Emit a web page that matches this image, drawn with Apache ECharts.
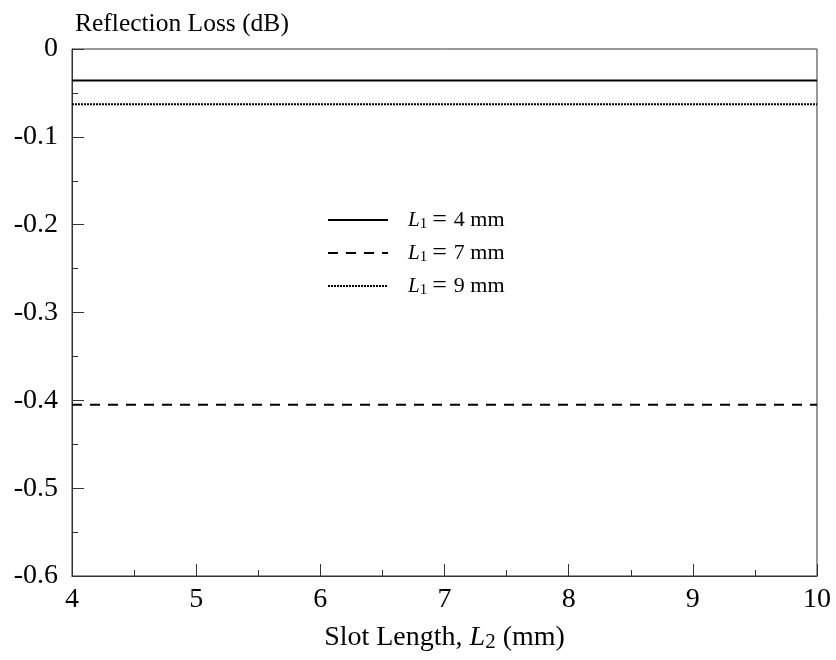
<!DOCTYPE html>
<html><head><meta charset="utf-8">
<script src="https://cdn.jsdelivr.net/npm/echarts@6/dist/echarts.min.js"></script>
<style>html,body{margin:0;padding:0;background:#fff}#c{width:836px;height:660px}</style>
</head><body><div id="c"></div>
<script>
const xValues = [4, 5, 6, 7, 8, 9, 10];
const seriesNames = ['L1 = 4 mm', 'L1 = 7 mm', 'L1 = 9 mm'];
const legendNums = ['4', '7', '9'];
const l1_4mm = [-0.036, -0.036, -0.036, -0.036, -0.036, -0.036, -0.036];
const l1_7mm = [-0.405, -0.405, -0.405, -0.405, -0.405, -0.405, -0.405];
const l1_9mm = [-0.063, -0.063, -0.063, -0.063, -0.063, -0.063, -0.063];
const yTickLabels = ['-0.6', '-0.5', '-0.4', '-0.3', '-0.2', '-0.1', '0'];

const FONT = '"Liberation Serif", "Times New Roman", serif';
const chart = echarts.init(document.getElementById('c'));
function pts(vals){ return xValues.map((x,i)=>[x, vals[i]]); }
const styles = [
  {type:'solid', width:2},
  {type:[10,8], width:2},
  {type:[2,1], width:2}
];
const allVals = [l1_4mm, l1_7mm, l1_9mm];
chart.setOption({
  animation:false,
  title:{text:'Reflection Loss (dB)', left:70, top:6, textStyle:{fontFamily:FONT, fontSize:25.5, fontWeight:'normal', color:'#000'}},
  grid:{left:72, right:19, top:49, bottom:84, show:true, borderColor:'#333', borderWidth:1, backgroundColor:'transparent'},
  legend:{
    orient:'vertical', left:322, top:202, itemWidth:60, itemHeight:14, itemGap:7,
    data:seriesNames,
    itemStyle:{opacity:0},
    formatter:function(n){ const i = seriesNames.indexOf(n); return '{i|L}{s|1}{e|=}{t|' + legendNums[i] + ' mm}'; },
    textStyle:{fontFamily:FONT, fontSize:21, color:'#000', padding:[0,0,0,15],
      rich:{i:{fontFamily:FONT, fontStyle:'italic', fontSize:21, color:'#000'},
            s:{fontFamily:FONT, fontSize:15, color:'#000', padding:[8,0,0,0]},
            e:{fontFamily:FONT, fontSize:26, color:'#000', padding:[0,7,0,5]},
            t:{fontFamily:FONT, fontSize:22, color:'#000'}}}
  },
  xAxis:{
    type:'value', min:4, max:10, interval:1,
    name:'Slot Length, {i|L}{s|2} (mm)', nameLocation:'middle', nameGap:46,
    nameTextStyle:{fontFamily:FONT, fontSize:28, color:'#000',
      rich:{i:{fontFamily:FONT, fontStyle:'italic', fontSize:28, color:'#000'},
            s:{fontFamily:FONT, fontSize:21, color:'#000', padding:[10,0,0,0]}}},
    axisLine:{onZero:false, lineStyle:{color:'#333', width:1}},
    axisTick:{inside:true, length:12, lineStyle:{color:'#333'}},
    minorTick:{show:true, splitNumber:2, length:6, lineStyle:{color:'#333'}},
    axisLabel:{fontFamily:FONT, fontSize:28, color:'#000', margin:10},
    splitLine:{show:false}
  },
  yAxis:{
    type:'value', min:-0.6, max:0, interval:0.1,
    axisLine:{show:true, onZero:false, lineStyle:{color:'#333', width:1}},
    axisTick:{show:true, inside:true, length:12, lineStyle:{color:'#333'}},
    minorTick:{show:true, splitNumber:2, length:6, lineStyle:{color:'#333'}},
    axisLabel:{fontFamily:FONT, fontSize:28, color:'#000', margin:14,
      formatter:function(v){ const idx = Math.round((v+0.6)*10); return yTickLabels[idx]; }},
    splitLine:{show:false}
  },
  series: seriesNames.map((n,k)=>({
    name:n, type:'line', data:pts(allVals[k]), showSymbol:false, symbol:'none',
    lineStyle:Object.assign({color:'#000'}, styles[k]), itemStyle:{color:'#000'}
  }))
});
</script></body></html>
